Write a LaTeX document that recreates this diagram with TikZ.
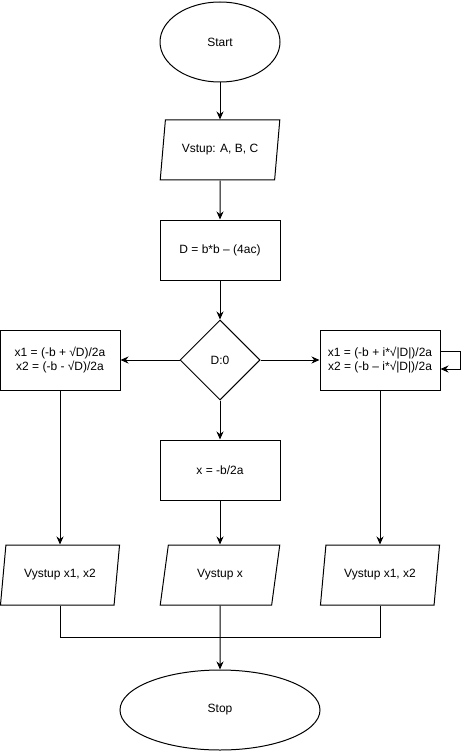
\documentclass[tikz,border=0pt]{standalone}
\usepackage{fontspec}
\setmainfont{Liberation Sans}
\usetikzlibrary{shapes.geometric,arrows.meta}

\begin{document}
\begin{tikzpicture}[x=1pt,y=-1pt,line width=1pt]
		\tikzstyle{every node}+=[font=\fontsize{12}{14}\selectfont, inner sep=0pt]
		\tikzstyle{term}=[draw, ellipse, minimum width=120, minimum height=80]
		\tikzstyle{io}=[draw, trapezium, trapezium left angle=71.57, trapezium right angle=108.43, trapezium stretches=true, minimum width=120, minimum height=60]
		\tikzstyle{proc}=[draw, rectangle, minimum width=120, minimum height=60, align=center]
		\tikzstyle{dec}=[draw, diamond, aspect=1, minimum width=80, minimum height=80]
		\tikzstyle{arr}=[-{Stealth[length=8pt,width=7pt]}]
		\useasboundingbox (0,0) rectangle (469,751);
		\node [term] (start) at (220,42) {Start};
		\node [io] (input) at (220,150) {Vstup: A, B, C};
		\node [proc] (disc) at (220,250) {D = b*b – (4ac)};
		\node [dec] (cond) at (220,360) {D:0};
		\node [proc] (twoReal) at (60,360) {x1 = (-b + √D)/2a\\ x2 = (-b - √D)/2a};
		\node [proc] (complexRoots) at (380,360) {x1 = (-b + i*√|D|)/2a\\x2 = (-b – i*√|D|)/2a};
		\node [proc] (oneRoot) at (220,470) {x = -b/2a};
		\node [io] (outL) at (60,575) {Vystup x1, x2};
		\node [io] (outM) at (220,575) {Vystup x};
		\node [io] (outR) at (380,575) {Vystup x1, x2};
		\node [term, minimum width=200] (stop) at (220,710) {Stop};
		\draw [arr] (start) -- (input);
		\draw [arr] (input) -- (disc);
		\draw [arr] (disc) -- (cond);
		\draw [arr] (cond) -- (twoReal);
		\draw [arr] (cond) -- (complexRoots);
		\draw [arr] (cond) -- (oneRoot);
		\draw [arr] ([yshift=9pt]complexRoots.east) -- ++(20,0) |- ([yshift=-9pt]complexRoots.east);
		\draw [arr] (twoReal) -- (outL);
		\draw [arr] (oneRoot) -- (outM);
		\draw [arr] (complexRoots) -- (outR);
		\draw (outL.south) -- ++(0,32) -| (outR.south);
		\draw [arr] (outM) -- (stop);
	\end{tikzpicture}
\end{document}
